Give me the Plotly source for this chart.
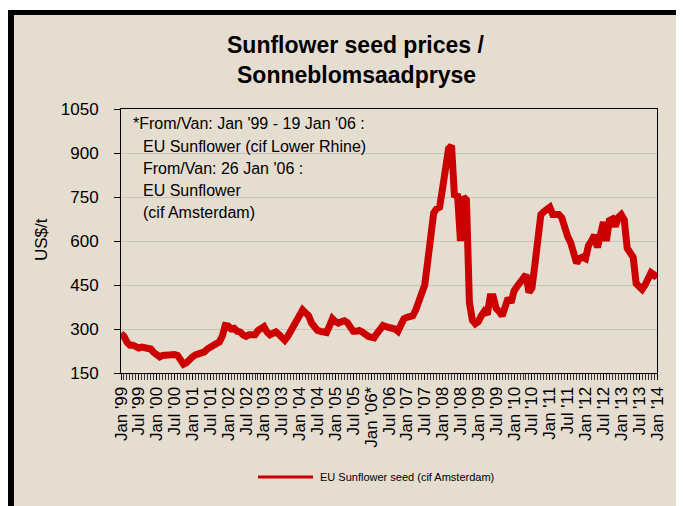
import plotly.graph_objects as go
import pandas as pd

# ---------------- data ----------------
start_month = "1999-01"
prices = [
    285, 275, 255, 245, 245, 238, 235, 238, 235, 232, 232, 220,   # 1999
    208, 205, 210, 212, 208, 212, 213, 210, 195, 180, 185, 200,   # 2000
    205, 212, 215, 220, 222, 232, 240, 245, 250, 255, 275, 312,   # 2001
    310, 300, 302, 292, 290, 280, 275, 280, 282, 280, 295, 305,   # 2002
    308, 290, 280, 285, 290, 282, 268, 262, 275, 295, 310, 330,   # 2003
    350, 365, 355, 345, 320, 305, 295, 292, 290, 288, 310, 335,   # 2004
    325, 320, 325, 328, 322, 300, 292, 292, 295, 290, 280, 275,   # 2005
    272, 270, 285, 300, 312, 308, 305, 308, 300, 292, 310, 335,   # 2006
    340, 340, 345, 365, 390, 420, 450, 530, 640, 695, 710, 715,   # 2007
    780, 850, 915, 925, 750, 760, 600, 750, 740, 390, 330, 318,   # 2008
    325, 345, 360, 350, 410, 410, 370, 360, 345, 375, 405, 390,   # 2009
    430, 445, 460, 475, 485, 425, 440, 520, 620, 690, 700, 712,   # 2010
    715, 690, 690, 690, 680, 640, 615, 595, 560, 525, 540, 545,   # 2011
    540, 585, 600, 620, 578, 630, 665, 600, 670, 675, 650, 680,   # 2012
    690, 672, 575, 560, 545, 455, 440, 435, 450, 470, 492, 485,   # 2013
    474,                                                          # Jan 2014
]
tick_labels = [
    "Jan '99", "Jul '99", "Jan '00", "Jul '00", "Jan '01", "Jul '01",
    "Jan '02", "Jul '02", "Jan '03", "Jul '03", "Jan '04", "Jul '04",
    "Jan '05", "Jul '05", "Jan '06*", "Jul '06", "Jan '07", "Jul '07",
    "Jan '08", "Jul '08", "Jan '09", "Jul '09", "Jan '10", "Jul '10",
    "Jan '11", "Jul '11", "Jan '12", "Jul '12", "Jan '13", "Jul '13",
    "Jan '14",
]
y_ticks = [150, 300, 450, 600, 750, 900, 1050]
note_lines = [
    "*From/Van: Jan '99 - 19 Jan '06 :",
    "EU Sunflower (cif Lower Rhine)",
    "From/Van: 26 Jan '06 :",
    "EU Sunflower",
    "(cif Amsterdam)",
]
series_name = "EU Sunflower seed (cif Amsterdam)"
title_lines = ["Sunflower seed prices /", "Sonneblomsaadpryse"]

months = pd.date_range(start_month, periods=len(prices), freq="MS")
x_idx = list(range(len(months)))
tick_idx = list(range(0, len(months), 6))

# ---------------- layout geometry ----------------
# the page body adds an 8px offset; positions below are given in screen pixels
OFF = 8
W_FIG, H_FIG = 684 - OFF, 506 - OFF
L, R, T, B = 121 - OFF, 657 - OFF, 109 - OFF, 373 - OFF   # plot area in figure px
PW, PH = R - L, B - T


def px(x):
    return (x - OFF - L) / PW


def py(y):
    return (B - (y - OFF)) / PH


BG = "#e5ddd0"
RED = "#cc0000"
FONT = "Liberation Sans, Arial, sans-serif"

fig = go.Figure()
fig.add_trace(go.Scatter(
    x=x_idx, y=prices, mode="lines", name=series_name,
    line=dict(color=RED, width=7), showlegend=False,
    customdata=[m.strftime("%b %Y") for m in months],
    hovertemplate="%{customdata}: %{y}<extra></extra>",
))

shapes = [
    # thin white strip above the frame
    dict(type="rect", xref="paper", yref="paper", x0=px(0), x1=px(700),
         y0=py(10), y1=py(0), fillcolor="white", line_width=0, layer="above"),
    # black frame
    dict(type="rect", xref="paper", yref="paper", x0=px(0), x1=px(700),
         y0=py(15), y1=py(10), fillcolor="black", line_width=0, layer="above"),
    dict(type="rect", xref="paper", yref="paper", x0=px(0), x1=px(14),
         y0=py(520), y1=py(10), fillcolor="black", line_width=0, layer="above"),
    dict(type="line", xref="paper", yref="paper", x0=px(682.5), x1=px(682.5),
         y0=py(520), y1=py(10), line=dict(color="#333333", width=1), layer="above"),
    # legend key
    dict(type="line", xref="paper", yref="paper", x0=px(258), x1=px(313),
         y0=py(477), y1=py(477), line=dict(color=RED, width=3)),
]

annotations = []
annotations.append(dict(xref="paper", yref="paper", x=px(356), y=py(45),
                        text="<b>%s</b>" % title_lines[0], showarrow=False,
                        xanchor="center", yanchor="middle",
                        font=dict(family=FONT, size=23, color="black")))
annotations.append(dict(xref="paper", yref="paper", x=px(356), y=py(75),
                        text="<b>%s</b>" % title_lines[1], showarrow=False,
                        xanchor="center", yanchor="middle",
                        font=dict(family=FONT, size=23, color="black")))
note_x = [131, 141, 141, 141, 141]
note_y = [124, 146, 168, 190, 212]
for t, xx, yy in zip(note_lines, note_x, note_y):
    annotations.append(dict(xref="paper", yref="paper", x=px(xx), y=py(yy),
                            text=t, showarrow=False, xanchor="left", yanchor="middle",
                            font=dict(family=FONT, size=16, color="black")))
annotations.append(dict(xref="paper", yref="paper", x=px(318), y=py(477),
                        text=series_name, showarrow=False, xanchor="left",
                        yanchor="middle", font=dict(family=FONT, size=11, color="black")))
annotations.append(dict(xref="paper", yref="paper", x=px(41), y=py(240),
                        text="US$/t", showarrow=False, textangle=-90,
                        xanchor="center", yanchor="middle",
                        font=dict(family=FONT, size=17, color="black")))

fig.update_layout(
    width=W_FIG, height=H_FIG,
    margin=dict(l=L, r=W_FIG - R, t=T, b=H_FIG - B, pad=0),
    paper_bgcolor=BG, plot_bgcolor=BG,
    showlegend=False,
    shapes=shapes, annotations=annotations,
    font=dict(family=FONT, size=17, color="black"),
)
fig.update_xaxes(
    range=[0, len(prices) - 1], tickmode="array", tickvals=tick_idx, ticktext=tick_labels,
    tickangle=-90, ticks="outside", ticklen=6, tickcolor="black", tickwidth=1,
    minor=dict(dtick=1, tick0=0, ticks="outside", ticklen=6, tickcolor="#333333", tickwidth=1),
    showline=True, linecolor="black", linewidth=1, mirror=True,
    showgrid=False, zeroline=False, tickfont=dict(family=FONT, size=17),
)
fig.update_yaxes(
    range=[150, 1050], tickmode="array", tickvals=y_ticks,
    ticks="outside", ticklen=6, tickcolor="black", tickwidth=1,
    showline=True, linecolor="black", linewidth=1, mirror=True,
    showgrid=True, gridcolor="#c9c3ba", gridwidth=1, zeroline=False,
    tickfont=dict(family=FONT, size=17), ticklabelstandoff=12,
)

fig.write_html("out.html")
